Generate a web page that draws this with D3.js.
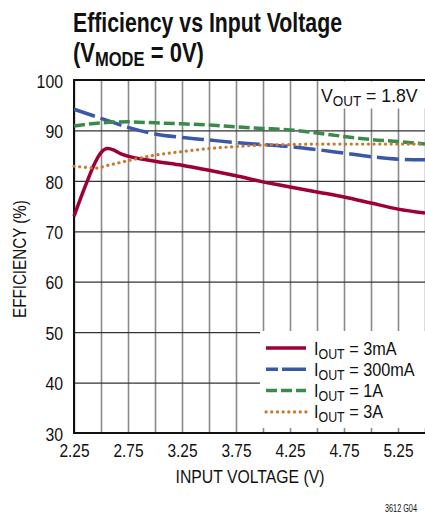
<!DOCTYPE html>
<html>
<head>
<meta charset="utf-8">
<script src="https://cdn.jsdelivr.net/npm/d3@7"></script>
<style>
  body { margin: 0; background: #fff; }
  svg text { font-family: "Liberation Sans", Arial, sans-serif; fill: #111; }
  .title { font-weight: bold; font-size: 28px; }
  .tick text { font-size: 18px; }
  .lbl { font-size: 19px; }
</style>
</head>
<body>
<div class="effGraph"></div>
<script>
// input voltage (V) / efficiency (%)
const yTicks = [30, 40, 50, 60, 70, 80, 90, 100]
const xLabels = [2.25, 2.75, 3.25, 3.75, 4.25, 4.75, 5.25]
const xGrid = [2.25, 2.5, 2.75, 3, 3.25, 3.5, 3.75, 4, 4.25, 4.5, 4.75, 5, 5.25, 5.5]

const iout3mA = [[2.25, 73.0], [2.31, 76.5], [2.37, 79.8], [2.44, 83.4], [2.5, 85.6], [2.56, 86.4], [2.62, 86.1],
  [2.68, 85.4], [2.75, 84.9], [3.0, 83.9], [3.25, 83.1], [3.5, 82.1], [3.75, 81.0], [4.0, 79.8],
  [4.25, 78.8], [4.5, 77.8], [4.75, 76.8], [5.0, 75.6], [5.25, 74.4], [5.5, 73.6]]
const iout300mA = [[2.25, 94.2], [2.5, 92.4], [2.75, 90.6], [3.0, 89.3], [3.25, 88.6], [3.5, 88.1], [3.75, 87.6],
  [4.0, 87.2], [4.25, 86.8], [4.5, 86.2], [4.75, 85.5], [5.0, 84.8], [5.25, 84.3], [5.5, 84.2]]
const iout1A = [[2.25, 90.9], [2.5, 91.5], [2.75, 91.7], [3.0, 91.5], [3.25, 91.3], [3.5, 91.1], [3.75, 90.7],
  [4.0, 90.4], [4.25, 90.1], [4.5, 89.5], [4.75, 88.8], [5.0, 88.2], [5.25, 87.8], [5.5, 87.3]]
const iout3A = [[2.25, 82.9], [2.35, 82.7], [2.45, 82.5], [2.55, 83.0], [2.75, 84.0], [3.0, 85.1], [3.25, 85.8],
  [3.5, 86.4], [3.75, 86.8], [4.0, 87.1], [4.25, 87.2], [4.5, 87.3], [5.0, 87.3], [5.5, 87.3]]

const series = [
  { label: '3mA', data: iout3mA, color: '#9c0034', dash: null, width: 3.5 },
  { label: '300mA', data: iout300mA, color: '#3a58a8', dash: '22,6', width: 3.5 },
  { label: '1A', data: iout1A, color: '#3b8a4c', dash: '11,4', width: 3.5 },
  { label: '3A', data: iout3A, color: '#c8782f', dash: '0.1,5.6', width: 3.2 }
]

const width = 425, height = 515
const svg = d3.select('.effGraph').append('svg')
  .attr('width', width)
  .attr('height', height)

const x = d3.scaleLinear().domain([2.25, 5.5]).range([74, 425])
const y = d3.scaleLinear().domain([30, 100]).range([433, 80])

// squeeze a text group horizontally so it matches the narrow font of the original
const condense = function(g, px, py, w, anchor) {
  const bw = g.node().getBBox().width
  const s = w / bw
  const dx = anchor === 'middle' ? -w / 2 : 0
  g.attr('transform', `translate(${px + dx}, ${py}) scale(${s}, 1)`)
  return s
}

// title
const t1 = svg.append('g')
t1.append('text').attr('class', 'title').text('Efficiency vs Input Voltage')
condense(t1, 73, 32, 269)
const t2g = svg.append('g')
const t2 = t2g.append('text').attr('class', 'title')
t2.append('tspan').text('(V')
t2.append('tspan').attr('font-size', 21).attr('dy', 4).text('MODE')
t2.append('tspan').attr('dy', -4).text(' = 0V)')
condense(t2g, 73, 62, 131)

// vertical grid
svg.append('g')
  .attr('transform', `translate(0, ${y(30)})`)
  .call(d3.axisBottom(x).tickValues(xGrid).tickSize(-(y(30) - y(100))).tickFormat(''))
  .call(g => g.select('.domain').remove())
  .selectAll('line').attr('stroke', '#8a8a8a').attr('stroke-width', 1.6)

// x labels
svg.append('g')
  .attr('transform', `translate(0, ${y(30)})`)
  .call(d3.axisBottom(x).tickValues(xLabels).tickSize(0).tickPadding(11).tickFormat(d3.format('.2f')))
  .call(g => g.select('.domain').remove())
  .selectAll('text').attr('fill', '#111').attr('transform', 'scale(0.86, 1)')

// horizontal grid + y labels
svg.append('g')
  .attr('transform', `translate(${x(2.25)}, 0)`)
  .call(d3.axisLeft(y).tickValues(yTicks).tickSize(-(x(5.5) - x(2.25))).tickPadding(12.5))
  .call(g => g.select('.domain').remove())
  .call(g => g.selectAll('line').attr('stroke', '#333').attr('stroke-width', 1.2))
  .selectAll('text').attr('fill', '#111').attr('dy', '0.4em').attr('transform', 'scale(0.88, 1)')

// frame
svg.append('path')
  .attr('d', `M${x(5.5)},${y(100)}H${x(2.25)}V${y(30)}H${x(5.5)}`)
  .attr('fill', 'none').attr('stroke', '#111').attr('stroke-width', 2)

// boxes over the grid
svg.append('rect').attr('x', 320).attr('y', 81.5).attr('width', 105).attr('height', 27).attr('fill', '#fff')
svg.append('rect').attr('x', 260).attr('y', 331).attr('width', 165).attr('height', 97).attr('fill', '#fff')

// curves
const line = d3.line()
  .x(d => x(d[0]))
  .y(d => y(d[1]))
  .curve(d3.curveMonotoneX)

svg.selectAll('.effLine')
  .data(series)
  .join('path')
  .attr('class', 'effLine')
  .attr('d', d => line(d.data))
  .attr('fill', 'none')
  .attr('stroke', d => d.color)
  .attr('stroke-width', d => d.width)
  .attr('stroke-dasharray', d => d.dash)
  .attr('stroke-linecap', d => d.label === '3A' ? 'round' : 'butt')

// VOUT note
const vog = svg.append('g')
const vo = vog.append('text').attr('class', 'lbl')
vo.append('tspan').text('V')
vo.append('tspan').attr('font-size', 14.5).attr('dy', 4).text('OUT')
vo.append('tspan').attr('dy', -4).text(' = 1.8V')
condense(vog, 321, 102, 97)

// legend
const leg = svg.selectAll('.legRow')
  .data(series)
  .join('g')
  .attr('class', 'legRow')
  .attr('transform', (d, i) => `translate(266, ${348 + i * 21.3})`)

leg.append('line')
  .attr('x1', 0).attr('x2', 40)
  .attr('stroke', d => d.color)
  .attr('stroke-width', d => d.width)
  .attr('stroke-dasharray', d => d.label === '300mA' ? '12,4,24' : d.dash)
  .attr('stroke-linecap', d => d.label === '3A' ? 'round' : 'butt')

const ltg = leg.append('g')
const lt = ltg.append('text').attr('class', 'lbl')
lt.append('tspan').text('I')
lt.append('tspan').attr('font-size', 14.5).attr('dy', 4).text('OUT')
lt.append('tspan').attr('dy', -4).text(d => ` = ${d.label}`)
const legScale = 101 / ltg.filter(d => d.label === '300mA').node().getBBox().width
ltg.attr('transform', `translate(48, 6.5) scale(${legScale}, 1)`)

// axis titles
const xt = svg.append('g')
xt.append('text').attr('class', 'lbl').text('INPUT VOLTAGE (V)')
condense(xt, 250, 483, 149, 'middle')

const yt = svg.append('g')
yt.append('text').attr('class', 'lbl').attr('font-size', 18).text('EFFICIENCY (%)')
const ys = 118 / yt.node().getBBox().width
yt.attr('transform', `translate(26, 259) rotate(-90) translate(-59, 0) scale(${ys}, 1)`)

const ft = svg.append('g')
ft.append('text').attr('font-size', 11).text('3612 G04')
condense(ft, 385, 512, 32)
</script>
</body>
</html>
